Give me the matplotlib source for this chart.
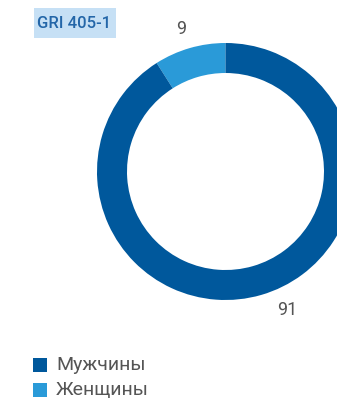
import matplotlib.pyplot as plt
from matplotlib.patches import Rectangle

labels = ["Женщины", "Мужчины"]
values = [9, 91]
colors = ["#2A9AD8", "#00589C"]
legend_labels = ["Мужчины", "Женщины"]
legend_colors = ["#00589C", "#2A9AD8"]

W, H = 337, 403
fig = plt.figure(figsize=(W / 100, H / 100), dpi=100)
ax = fig.add_axes([0, 0, 1, 1])

# y axis runs downward, so the top of the ring sits at 270 degrees
ax.pie(values, colors=colors, startangle=270, counterclock=False,
       center=(225.5, 171.5), radius=128.5,
       wedgeprops=dict(width=30, edgecolor="none"))
ax.set_xlim(0, W)
ax.set_ylim(H, 0)
ax.set_aspect("auto")
ax.axis("off")

font = ["Roboto", "DejaVu Sans"]

# value labels
ax.text(181, 29, str(values[0]), ha="center", va="center",
        fontsize=13, color="#555555", family=font)
ax.text(287, 310, str(values[1]), ha="center", va="center",
        fontsize=13, color="#555555", family=font)

# GRI tag
ax.add_patch(Rectangle((34, 8), 82, 30, facecolor="#C6E0F5", edgecolor="none"))
ax.text(74, 23, "GRI 405-1", ha="center", va="center", fontsize=12,
        fontweight="medium", color="#2366A8", family=font)

# legend
for i, (lab, col) in enumerate(zip(legend_labels, legend_colors)):
    y = 358 + i * 25
    ax.add_patch(Rectangle((33, y), 14, 14, facecolor=col, edgecolor="none"))
    ax.text(56, y + 7, lab, ha="left", va="center", fontsize=14,
            color="#555555", family=font)

fig.savefig("out.png", dpi=100)
